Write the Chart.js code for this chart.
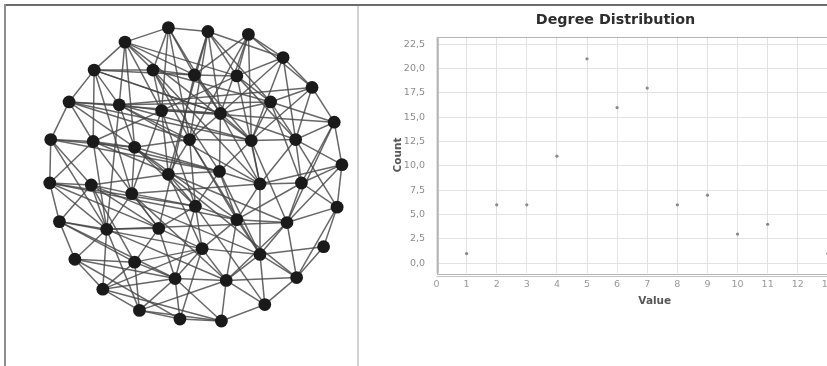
<!DOCTYPE html>
<html>
<head>
<meta charset="utf-8">
<script src="https://cdn.jsdelivr.net/npm/chart.js@4/dist/chart.umd.min.js"></script>
<style>
  html, body { margin: 0; padding: 0; background: #fff; overflow: hidden; }
  #wrap { position: relative; width: 827px; height: 366px; overflow: hidden; background: #fff; }
  #net { position: absolute; left: 0; top: 0; }
  #deg { position: absolute; left: 358px; top: 0; }
  .frame-top { position: absolute; left: 4px; top: 4px; width: 823px; height: 2px; background: #6b6b6b; }
  .frame-left { position: absolute; left: 4px; top: 4px; width: 2px; height: 362px; background: #8c8c8c; }
  .divider { position: absolute; left: 357px; top: 6px; width: 2px; height: 360px; background: #d2d2d2; }
</style>
</head>
<body>
<div id="wrap">
  <canvas id="net" width="357" height="366"></canvas>
  <canvas id="deg" width="533" height="366"></canvas>
  <div class="frame-top"></div>
  <div class="frame-left"></div>
  <div class="divider"></div>
</div>
<script>
// ---- Degree distribution ----
const degreeValues = [1, 2, 3, 4, 5, 6, 7, 8, 9, 10, 11, 13];
const degreeCounts = [1, 6, 6, 11, 21, 16, 18, 6, 7, 3, 4, 1];
const countTicks = [0, 2.5, 5, 7.5, 10, 12.5, 15, 17.5, 20, 22.5];
const valueTicks = [0, 1, 2, 3, 4, 5, 6, 7, 8, 9, 10, 11, 12, 13, 14];

// ---- Network layout (node positions in layout units) ----
const nodeX = [168, 209, 251, 123, 287, 91, 152, 195, 239, 317,
               65, 117, 161, 222, 274, 340, 46, 90, 133, 190,
               254, 300, 348, 168, 221, 45, 88, 130, 263, 306,
               343, 196, 55, 104, 158, 239, 291, 203, 329, 71,
               133, 263, 175, 228, 301, 100, 268, 138, 180, 223];
const nodeY = [22, 26, 29, 37, 53, 66, 66, 71, 72, 84,
               99, 102, 108, 111, 99, 120, 138, 140, 146, 138,
               139, 138, 164, 174, 171, 183, 185, 194, 184, 183,
               208, 207, 223, 231, 230, 221, 224, 251, 249, 262,
               265, 257, 282, 284, 281, 293, 309, 315, 324, 326];
const edges = [
  [0,1],[1,4],[2,4],[2,9],[4,9],[9,15],[15,22],[22,30],[30,38],[38,41],[30,36],[36,44],
  [44,46],[46,49],[49,48],[48,47],[47,45],[45,39],[39,32],[32,25],[25,16],[16,10],[10,5],[5,3],[3,0],
  [0,6],[0,12],[0,13],[1,7],[1,13],[1,19],[1,14],[2,8],[2,7],[2,19],[3,6],[3,11],[3,12],[3,8],[3,18],
  [4,8],[4,13],[4,20],[4,21],[5,7],[5,6],[5,17],[5,27],[6,7],[6,12],[6,14],[6,24],[7,8],[7,13],[7,20],
  [7,34],[8,14],[8,12],[8,28],[8,21],[9,14],[9,11],[9,21],
  [10,11],[10,17],[10,20],[11,12],[11,18],[11,19],[11,33],[11,14],[12,15],
  [12,13],[12,17],[12,23],[12,27],[13,14],[13,19],[13,24],[13,28],[13,20],[14,20],[14,21],[14,15],[14,29],
  [15,21],[15,29],[16,17],[16,26],[16,18],[17,18],[17,25],[17,33],[17,34],[18,19],[18,23],[18,27],[18,24],
  [19,20],[19,23],[19,31],[19,35],[20,21],[20,24],[20,28],[20,36],[21,22],[21,28],[21,29],[21,30],
  [22,29],[22,28],[23,24],[23,26],[23,31],[23,37],[24,28],[24,35],[24,31],[24,41],[25,26],[25,33],
  [25,34],[26,27],[26,32],[26,33],[26,40],[27,31],[27,34],[27,28],[28,29],[28,35],[28,41],[29,36],
  [29,35],[29,30],[30,44],[31,34],[31,35],[31,37],[31,42],[32,33],[32,40],[33,34],[33,36],[33,45],
  [33,47],[34,37],[34,40],[34,42],[35,36],[35,37],[35,41],[35,43],[36,41],[36,43],[37,41],[37,42],
  [37,43],[37,48],[39,40],[39,33],[40,42],[40,47],[40,37],[41,43],[41,44],[41,46],[42,43],[42,47],
  [42,48],[42,49],[43,44],[43,46],[43,49],[45,40],[45,42],[47,49],[38,44],[27,33],[26,34],[16,33],
  [10,18],[5,11],[5,13],[3,7],[0,7],[1,8],[2,13],[6,19],[11,20],[10,19],[17,24],[18,31],[25,31],
  [32,42],[39,48],[45,49],
  [3,20],[5,21],[11,28],[16,24],[25,35],[10,13],[17,36],[26,41],[32,37],[6,28],[0,19],[1,23],
  [2,20],[9,20],[15,36],[22,36],[12,31],[27,43],[33,43],[39,42],[45,37],[47,43],[18,35],[19,41],
  [23,44],[31,46]
];

const nodePoints = nodeX.map((x, i) => ({ x: x, y: nodeY[i] }));
const edgeDatasets = edges.map(([a, b]) => ({
  type: 'scatter',
  data: [nodePoints[a], nodePoints[b]],
  showLine: true,
  borderColor: 'rgba(70,70,70,0.82)',
  borderWidth: 1.5,
  pointRadius: 0,
  pointHoverRadius: 0,
  order: 1
}));

new Chart(document.getElementById('net'), {
  type: 'scatter',
  data: {
    datasets: [
      {
        data: nodePoints,
        backgroundColor: '#1a1a1a',
        borderColor: '#1a1a1a',
        borderWidth: 0,
        pointRadius: 6.4,
        order: 0
      },
      ...edgeDatasets
    ]
  },
  options: {
    responsive: false,
    animation: false,
    events: [],
    layout: { padding: 0 },
    plugins: { legend: { display: false }, tooltip: { enabled: false } },
    scales: {
      x: { type: 'linear', display: false, min: 0, max: 357 },
      y: { type: 'linear', display: false, min: 0, max: 366, reverse: true }
    }
  }
});

// Plot outline with the offset axis rule underneath
const plotOutline = {
  id: 'plotOutline',
  afterDraw(chart) {
    const { ctx, chartArea: a } = chart;
    ctx.save();
    ctx.strokeStyle = '#b4b4b4';
    ctx.lineWidth = 1;
    ctx.strokeRect(Math.round(a.left) + 0.5, Math.round(a.top) + 0.5,
                   Math.round(a.right - a.left), Math.round(a.bottom - a.top));
    ctx.strokeStyle = '#c4c4c4';
    ctx.beginPath();
    ctx.moveTo(a.left, Math.round(a.bottom) + 3.5);
    ctx.lineTo(a.right, Math.round(a.bottom) + 3.5);
    ctx.moveTo(Math.round(a.left) + 1.5, a.top);
    ctx.lineTo(Math.round(a.left) + 1.5, a.bottom);
    ctx.stroke();
    ctx.restore();
  }
};

const tickFont = { family: 'DejaVu Sans', size: 9.5 };
const axisTitleFont = { family: 'DejaVu Sans', size: 10.5, weight: 'bold' };

new Chart(document.getElementById('deg'), {
  type: 'scatter',
  data: {
    datasets: [{
      data: degreeValues.map((v, i) => ({ x: v, y: degreeCounts[i] })),
      backgroundColor: '#8a8a8a',
      borderWidth: 0,
      pointRadius: 1.6
    }]
  },
  options: {
    responsive: false,
    animation: false,
    events: [],
    layout: { padding: { left: 0, right: 18, top: 0, bottom: 0 } },
    plugins: {
      legend: { display: false },
      tooltip: { enabled: false },
      title: {
        display: true,
        text: 'Degree Distribution',
        color: '#2e2e2e',
        font: { family: 'DejaVu Sans', size: 14.3, weight: 'bold' },
        padding: { top: 12.1, bottom: 7.4 }
      }
    },
    scales: {
      x: {
        type: 'linear',
        min: 0,
        max: 14.5,
        afterBuildTicks: s => { s.ticks = valueTicks.map(v => ({ value: v })); },
        afterFit: s => { s.height = 92.7; },
        ticks: { color: '#999999', font: tickFont, padding: 6, maxRotation: 0, autoSkip: false,
                 callback: v => String(v) },
        grid: { color: '#e2e2e2', lineWidth: 1, drawTicks: false },
        border: { display: false },
        title: { display: true, text: 'Value', color: '#585858', font: axisTitleFont,
                 padding: { top: 0, bottom: 58.7 } }
      },
      y: {
        type: 'linear',
        min: -1.03,
        max: 23.28,
        afterBuildTicks: s => { s.ticks = countTicks.map(v => ({ value: v })); },
        afterFit: s => { s.width = 78.5; },
        ticks: { color: '#8c8c8c', font: tickFont, padding: 11.5, autoSkip: false,
                 callback: v => v.toFixed(1).replace('.', ',') },
        grid: { color: '#e2e2e2', lineWidth: 1, drawTicks: false },
        border: { display: false },
        title: { display: true, text: 'Count', color: '#585858', font: axisTitleFont,
                 padding: { top: 34, bottom: 0 } }
      }
    }
  },
  plugins: [plotOutline]
});
</script>
</body>
</html>
